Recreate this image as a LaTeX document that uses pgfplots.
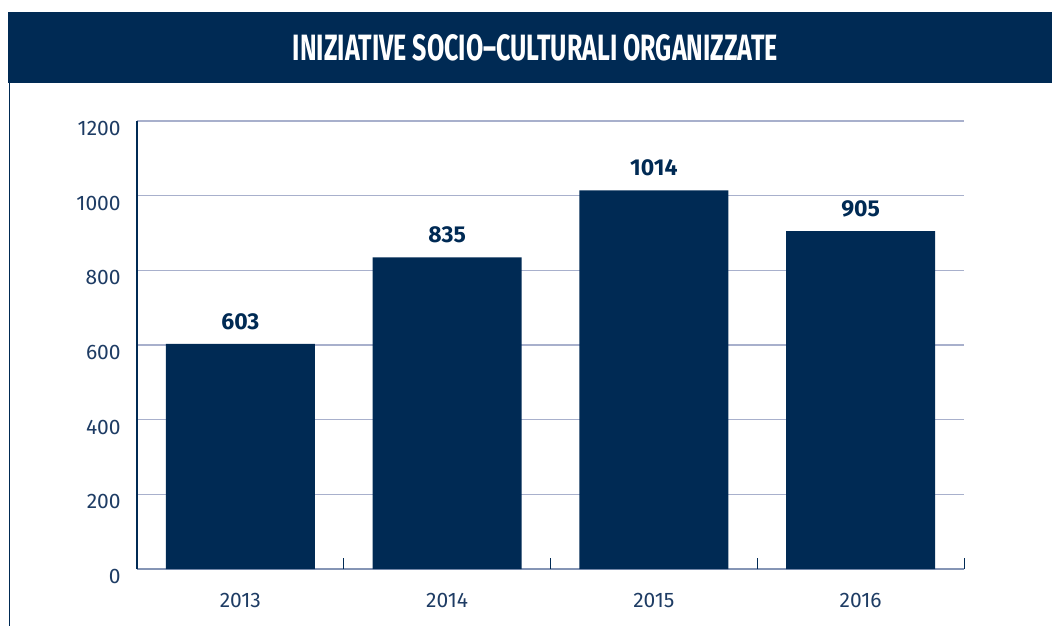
\documentclass[border=0pt]{standalone}
\usepackage{fontspec}
\setmainfont{Fira Sans}
\usepackage{pgfplots}
\pgfplotsset{compat=1.18}
\usepackage{graphicx}
\definecolor{navy}{HTML}{002A54}
\definecolor{ticktext}{HTML}{1E3C64}
\definecolor{gridc}{HTML}{A8B0CC}
\definecolor{baseline}{HTML}{8595B5}
\begin{document}
\begin{tikzpicture}
\useasboundingbox (0pt,0pt) rectangle (1052pt,-625pt);
\fill[navy] (8pt,-12pt) rectangle (1052pt,-83pt);
\node[inner sep=0pt, text=white] at (535.5pt,-48pt) {\resizebox{485pt}{26pt}{\bfseries INIZIATIVE SOCIO–CULTURALI ORGANIZZATE}};
\draw[navy, line width=1.6pt] (9.5pt,-83pt) -- (9.5pt,-630pt);
\begin{axis}[
  at={(137pt,-569pt)}, anchor=south west,
  scale only axis, width=827pt, height=448pt,
  xmin=-0.5, xmax=3.5, ymin=0, ymax=1200,
  axis lines=left,
  x axis line style={-, draw=baseline, line width=1.2pt},
  y axis line style={-, draw=navy, line width=1.2pt},
  xtick={0,1,2,3},
  xticklabels={2013,2014,2015,2016},
  x tick style={draw=none},
  extra x ticks={0.5,1.5,2.5,3.5},
  extra x tick labels={},
  extra x tick style={x tick style={draw=navy, line width=1pt}, major tick length=11pt, tick align=inside, grid=none},
  ytick={0,200,...,1200},
  y tick style={draw=none},
  ymajorgrids,
  grid style={draw=gridc, line width=1.2pt},
  /pgf/number format/assume math mode=true,
  /pgf/number format/1000 sep={},
  tick label style={font=\fontsize{21}{25}\selectfont, text=ticktext},
  yticklabel style={anchor=north east, inner sep=0pt, xshift=-14pt, yshift=0pt},
  xticklabel style={anchor=north, inner sep=0pt, yshift=-20pt},
  ybar, bar width=149pt,
  nodes near coords,
  nodes near coords style={font=\fontsize{23}{27}\selectfont\bfseries, text=navy, anchor=south, inner sep=0pt, yshift=14pt},
  axis on top=false,
]
\addplot[fill=navy, draw=none] coordinates {(0,603) (1,835) (2,1014) (3,905)};
\end{axis}
\end{tikzpicture}
\end{document}
